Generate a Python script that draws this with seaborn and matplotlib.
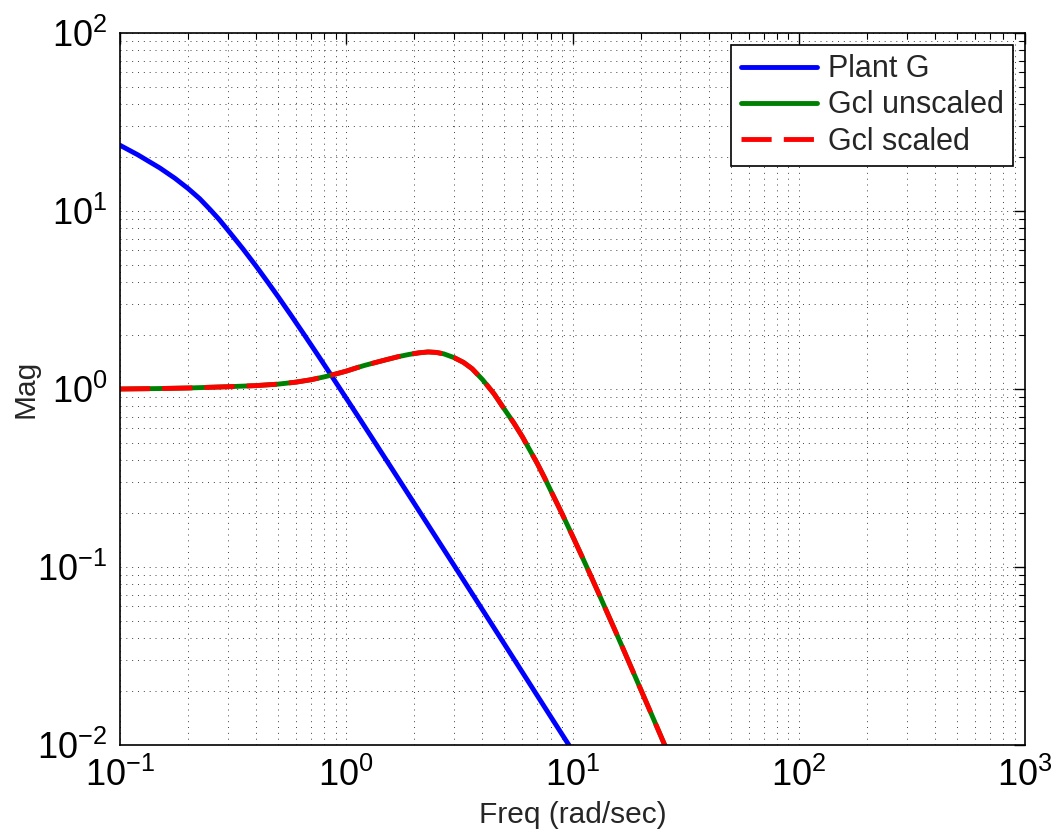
import matplotlib
matplotlib.use("Agg")
import matplotlib.pyplot as plt
import seaborn as sns
import pandas as pd
from matplotlib.ticker import LogLocator, NullFormatter

# ---- data ----
freq_g = [0.1, 0.12, 0.15, 0.175, 0.2, 0.225, 0.25, 0.275, 0.3, 0.35, 0.4,
          0.45, 0.5, 0.57, 0.65, 0.75, 0.85, 1.0, 1.15, 1.3, 1.6, 2.0, 2.5,
          3.0, 4.0, 5.0, 6.0, 8.0, 10.0]
mag_g = [23.4, 20.67, 17.45, 15.26, 13.37, 11.73, 10.2, 8.93, 7.8, 6.11, 4.89,
         3.98, 3.30, 2.595, 2.03, 1.547, 1.216, 0.887, 0.6755, 0.531, 0.3529,
         0.2271, 0.146, 0.1018, 0.0575, 0.0369, 0.02566, 0.01447, 0.00929]

freq_cl = [0.1, 0.15, 0.2, 0.3, 0.4, 0.5, 0.6, 0.7, 0.8, 0.9, 1.0, 1.1, 1.2,
           1.35, 1.5, 1.7, 1.9, 2.1, 2.3, 2.5, 2.7, 3.0, 3.3, 3.6, 4.0, 4.5,
           5.0, 5.5, 6.0, 6.5, 7.0, 7.5, 8.0, 9.0, 10.0, 11.0, 12.0, 13.0,
           14.0, 15.5, 17.0, 18.5, 20.0, 23.0, 26.0]
mag_cl_unscaled = [1.0, 1.006, 1.013, 1.03, 1.045, 1.065, 1.093, 1.128, 1.17,
                   1.215, 1.26, 1.31, 1.355, 1.41, 1.46, 1.52, 1.565, 1.597,
                   1.615, 1.605, 1.575, 1.50, 1.41, 1.30, 1.13, 0.94, 0.77,
                   0.645, 0.54, 0.45, 0.38, 0.32, 0.27, 0.1987, 0.1495, 0.115,
                   0.0902, 0.0719, 0.0581, 0.0434, 0.0332, 0.0259, 0.0206,
                   0.01366, 0.0095]
mag_cl_scaled = list(mag_cl_unscaled)

labels = ["Plant G", "Gcl unscaled", "Gcl scaled"]
x_label = "Freq (rad/sec)"
y_label = "Mag"

# ---- style ----
sns.set_style("white")
plt.rcParams["font.family"] = ["Liberation Sans", "DejaVu Sans"]
plt.rcParams["mathtext.fontset"] = "custom"
plt.rcParams["mathtext.rm"] = "Liberation Sans"
plt.rcParams["mathtext.it"] = "Liberation Sans:italic"
plt.rcParams["mathtext.bf"] = "Liberation Sans:bold"

fig = plt.figure(figsize=(10.52, 8.38), dpi=100)
ax = fig.add_axes([120 / 1052, 1 - 745 / 838, (1025 - 120) / 1052, (745 - 33) / 838])

df_g = pd.DataFrame({"f": freq_g, "m": mag_g})
df_u = pd.DataFrame({"f": freq_cl, "m": mag_cl_unscaled})
df_s = pd.DataFrame({"f": freq_cl, "m": mag_cl_scaled})

lw = 3.5
sns.lineplot(data=df_g, x="f", y="m", ax=ax, color=(0, 0, 1), linewidth=lw,
             label=labels[0], sort=False, estimator=None)
sns.lineplot(data=df_u, x="f", y="m", ax=ax, color=(0, 0.5, 0), linewidth=lw,
             label=labels[1], sort=False, estimator=None)
sns.lineplot(data=df_s, x="f", y="m", ax=ax, color=(1, 0, 0), linewidth=lw,
             label=labels[2], sort=False, estimator=None)
ax.lines[2].set_dashes([6.2, 2.5])
for ln in ax.lines:
    ln.set_solid_joinstyle("round")
    ln.set_dash_joinstyle("round")

ax.set_xscale("log")
ax.set_yscale("log")
ax.set_xlim(0.1, 1000)
ax.set_ylim(0.01, 100)

ax.xaxis.set_major_locator(LogLocator(base=10, numticks=10))
ax.yaxis.set_major_locator(LogLocator(base=10, numticks=10))
ax.xaxis.set_minor_locator(LogLocator(base=10, subs=range(2, 10), numticks=100))
ax.yaxis.set_minor_locator(LogLocator(base=10, subs=range(2, 10), numticks=100))
ax.xaxis.set_minor_formatter(NullFormatter())
ax.yaxis.set_minor_formatter(NullFormatter())

ax.grid(True, which="both", linestyle=(0, (1, 5)), color="0.25", linewidth=0.7)
ax.set_axisbelow(True)

ax.tick_params(which="both", direction="in", top=True, right=True,
               colors="black", labelsize=26)
ax.tick_params(which="major", length=8, width=1, pad=9)
ax.tick_params(which="minor", length=4.5, width=0.8)
for sp in ax.spines.values():
    sp.set_color("black")
    sp.set_linewidth(1.2)

ax.set_xlabel(x_label, fontsize=21.5, va="center")
ax.set_ylabel(y_label, fontsize=21.5, va="center")
ax.xaxis.set_label_coords(0.5, (745 - 815) / 712)
ax.yaxis.set_label_coords((25 - 120) / 905, 0.5)

leg = ax.legend(loc="upper right", fontsize=22, frameon=True, fancybox=False,
                framealpha=1, edgecolor="black", handlelength=2.5,
                borderaxespad=0.4, labelspacing=0.2, handletextpad=0.35,
                borderpad=0.3)
leg.get_frame().set_linewidth(1.2)

fig.savefig("out.png", dpi=100)
